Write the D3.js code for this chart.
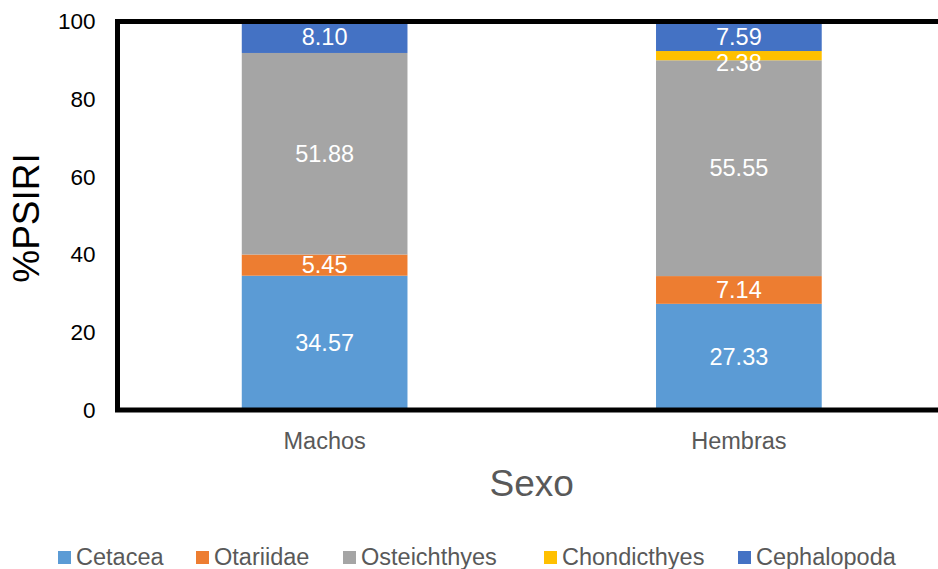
<!DOCTYPE html>
<html>
<head>
<meta charset="utf-8">
<script src="https://cdn.jsdelivr.net/npm/d3@7"></script>
<style>
  body { margin: 0; background: #fff; }
  svg { display: block; font-family: "Liberation Sans", Arial, sans-serif; }
</style>
</head>
<body>
<div id="chart"></div>
<script>
// categories and series
var sexo = ["Machos", "Hembras"];
var grupos = ["Cetacea", "Otariidae", "Osteichthyes", "Chondicthyes", "Cephalopoda"];
var cetacea = [34.57, 27.33];
var otariidae = [5.45, 7.14];
var osteichthyes = [51.88, 55.55];
var chondicthyes = [0, 2.38];
var cephalopoda = [8.10, 7.59];
var yTicks = [0, 20, 40, 60, 80, 100];

var colores = ["#5B9BD5", "#ED7D31", "#A5A5A5", "#FFC000", "#4472C4"];
var legendX = [58, 196, 343, 544, 738];

var rows = sexo.map(function(s, i) {
    return {
        sexo: s,
        Cetacea: cetacea[i],
        Otariidae: otariidae[i],
        Osteichthyes: osteichthyes[i],
        Chondicthyes: chondicthyes[i],
        Cephalopoda: cephalopoda[i]
    };
});

var width = 938, height = 569;
var plot = { left: 117.5, right: 946, top: 21.5, bottom: 410 };

var svg = d3.select('#chart').append('svg')
    .attr('width', width)
    .attr('height', height);

var xS = d3.scaleBand()
    .domain(sexo)
    .range([plot.left, plot.right])
    .paddingInner(0.6)
    .paddingOuter(0.3);
var yS = d3.scaleLinear()
    .domain([0, 100])
    .range([plot.bottom, plot.top]);
var color = d3.scaleOrdinal().domain(grupos).range(colores);

var stacked = d3.stack().keys(grupos)(rows);

var layers = svg.selectAll('g.layer')
    .data(stacked)
    .enter().append('g')
    .attr('class', 'layer')
    .style('fill', function(d) { return color(d.key); });

layers.selectAll('rect')
    .data(function(d) { return d; })
    .enter().append('rect')
    .attr('x', function(d) { return xS(d.data.sexo); })
    .attr('width', xS.bandwidth())
    .attr('y', function(d) { return yS(d[1]); })
    .attr('height', function(d) { return yS(d[0]) - yS(d[1]); });

// value labels
layers.selectAll('text')
    .data(function(d) { return d.filter(function(p) { return p[1] - p[0] > 0; }); })
    .enter().append('text')
    .attr('x', function(d) { return xS(d.data.sexo) + xS.bandwidth() / 2; })
    .attr('y', function(d) {
        var mid = (yS(d[0]) + yS(d[1])) / 2;
        var h = yS(d[0]) - yS(d[1]);
        return h < 20 ? mid + 7 : mid;
    })
    .attr('dy', '0.35em')
    .attr('text-anchor', 'middle')
    .style('fill', '#fff')
    .style('font-size', '23.5px')
    .text(function(d) { return (d[1] - d[0]).toFixed(2); });

// y axis
var yAxis = svg.append('g')
    .attr('transform', 'translate(' + plot.left + ',0)')
    .call(d3.axisLeft(yS).tickValues(yTicks).tickSize(0).tickPadding(22));
yAxis.select('.domain').remove();
yAxis.selectAll('text')
    .style('font-size', '22.5px')
    .style('font-family', '"Liberation Sans", Arial, sans-serif')
    .style('fill', '#000');

// x axis labels
var xAxis = svg.append('g')
    .attr('transform', 'translate(0,' + plot.bottom + ')')
    .call(d3.axisBottom(xS).tickSize(0).tickPadding(22));
xAxis.select('.domain').remove();
xAxis.selectAll('text')
    .style('font-size', '23.5px')
    .style('font-family', '"Liberation Sans", Arial, sans-serif')
    .style('fill', '#595959');

// frame
svg.append('path')
    .attr('d', 'M' + (plot.right + 20) + ',' + plot.top + 'H' + plot.left + 'V' + plot.bottom + 'H' + (plot.right + 20))
    .style('fill', 'none')
    .style('stroke', '#000')
    .style('stroke-width', 5);

// axis titles
svg.append('text')
    .attr('transform', 'translate(39,218) rotate(-90)')
    .attr('text-anchor', 'middle')
    .style('font-size', '37px')
    .style('fill', '#000')
    .text('%PSIRI');

svg.append('text')
    .attr('x', (plot.left + plot.right) / 2)
    .attr('y', 496)
    .attr('text-anchor', 'middle')
    .style('font-size', '37px')
    .style('fill', '#595959')
    .text('Sexo');

// legend
var legend = svg.selectAll('g.legend')
    .data(grupos)
    .enter().append('g')
    .attr('class', 'legend')
    .attr('transform', function(d, i) { return 'translate(' + legendX[i] + ',551)'; });
legend.append('rect')
    .attr('width', 13)
    .attr('height', 13)
    .style('fill', function(d) { return color(d); });
legend.append('text')
    .attr('x', 18)
    .attr('y', 13.5)
    .style('font-size', '23.5px')
    .style('fill', '#595959')
    .text(function(d) { return d; });
</script>
</body>
</html>
